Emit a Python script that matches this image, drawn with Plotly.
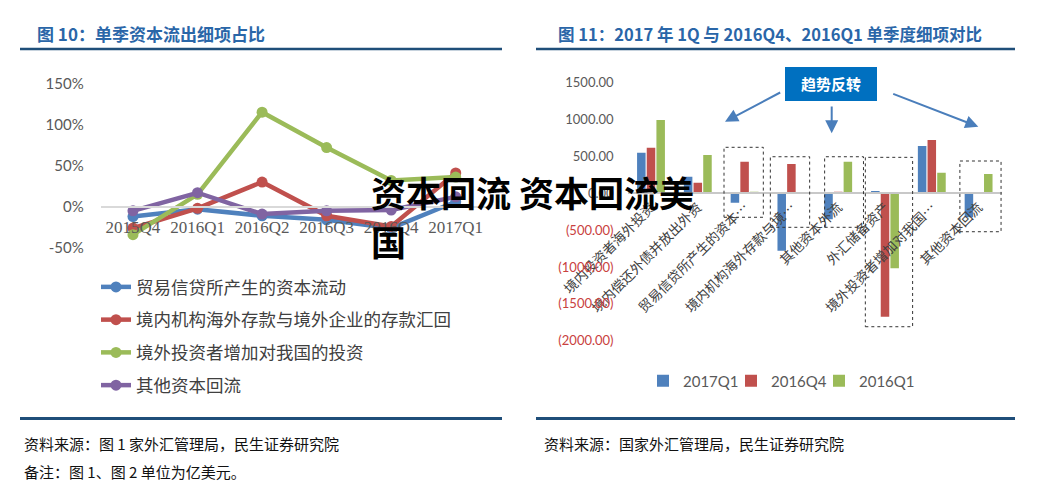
import plotly.graph_objects as go

W, H = 1062, 499

# ---------------- data ----------------
quarters = ["2015Q4", "2016Q1", "2016Q2", "2016Q3", "2016Q4", "2017Q1"]
trade_credit = [-12, -3, -11, -16, -26, 6]
deposits_return = [-26, -2, 30, -11, -24, 41]
foreign_investment = [-34, 15, 115, 72, 32, 36]
other_return = [-5, 17, -9, -5, -4, 12]
line_names = ["贸易信贷所产生的资本流动", "境内机构海外存款与境外企业的存款汇回",
              "境外投资者增加对我国的投资", "其他资本回流"]
left_ticks = [-50, 0, 50, 100, 150]

items = ["境内投资者海外投资", "境内偿还外债并放出外资", "贸易信贷所产生的资本…",
         "境内机构海外存款与境…", "其他资本外流", "外汇储备资产",
         "境外投资者增加对我国…", "其他资本回流"]
q_2017q1 = [550, 225, -127, -778, -353, 31, 641, -326]
q_2016q4 = [618, 144, 429, 397, 10, -1673, 723, 0]
q_2016q1 = [994, 519, 10, 0, 429, -1017, 280, 262]
bar_names = ["2017Q1", "2016Q4", "2016Q1"]
right_ticks = [1500, 1000, 500, 0, -500, -1000, -1500, -2000]

# ---------------- helpers ----------------
def px(x):
    return x / W

def py(y):
    return 1 - y / H

BLUE, RED, GREEN, PURPLE = "#4F81BD", "#C0504D", "#9BBB59", "#8064A2"
CJK = "Noto Sans CJK SC"

fig = go.Figure()

for name, vals, col in zip(line_names,
                           [trade_credit, deposits_return, foreign_investment, other_return],
                           [BLUE, RED, GREEN, PURPLE]):
    fig.add_trace(go.Scatter(
        x=quarters, y=vals, mode="lines+markers", name=name,
        line=dict(color=col, width=4.5), marker=dict(color=col, size=11),
        xaxis="x", yaxis="y", legend="legend", legendgroup=name, cliponaxis=False))

bar_legends = ["legend2", "legend3", "legend4"]
for name, vals, col, lg in zip(bar_names, [q_2017q1, q_2016q4, q_2016q1],
                               [BLUE, RED, GREEN], bar_legends):
    fig.add_trace(go.Bar(
        x=items, y=vals, name=name, marker=dict(color=col, line=dict(width=0)),
        xaxis="x2", yaxis="y2", legend=lg))

def tick_label(v):
    if v > 0:
        return f"{v:.2f}"
    if v == 0:
        return "0.00"
    return f"<span style='color:#C9413E'>({abs(v):.2f})</span>"

fig.update_layout(
    width=W, height=H,
    margin=dict(l=0, r=0, t=0, b=0, autoexpand=False),
    paper_bgcolor="white", plot_bgcolor="white",
    barmode="group", bargap=0.38, bargroupgap=0.12,
    xaxis=dict(domain=[px(100.7), px(488)], anchor="free", position=py(206.7),
               type="category", range=[-0.5, 5.5], showline=True, linecolor="#D9D9D9",
               linewidth=2, showgrid=False, ticks="", zeroline=False, automargin=False,
               ticklabelstandoff=5,
               tickfont=dict(family="Liberation Serif", size=17, color="#595959")),
    yaxis=dict(domain=[py(247.8), py(83.4)], anchor="free", position=px(100.7),
               range=[-50, 150], tickvals=left_ticks, automargin=False,
               ticktext=[f"{v}%" for v in left_ticks], showgrid=False, zeroline=False,
               showline=False, ticks="", ticklabelstandoff=17,
               tickfont=dict(family="Lato", size=15, color="#595959")),
    xaxis2=dict(domain=[px(627.6), px(1002)], anchor="free", position=py(193.3),
                type="category", range=[-0.5, 7.5], showline=True, linecolor="#C8C8C8",
                linewidth=2, showgrid=False, ticks="", zeroline=False, tickangle=-45,
                automargin=False,
                tickfont=dict(family=CJK, size=13.5, color="#404040")),
    yaxis2=dict(domain=[py(340.8), py(82.7)], anchor="free", position=px(627.6),
                range=[-2000, 1500], tickvals=right_ticks, automargin=False,
                ticktext=[tick_label(v) for v in right_ticks], showgrid=False,
                zeroline=False, showline=False, ticks="", ticklabelstandoff=14,
                tickfont=dict(family="Lato", size=13, color="#595959")),
    legend=dict(x=px(96), y=py(269), xanchor="left", yanchor="top",
                font=dict(family=CJK, size=17.5, color="#404040"),
                tracegroupgap=7, bgcolor="rgba(0,0,0,0)", itemwidth=30,
                itemclick=False),
)

# one single-entry legend per bar series, laid out in a row
for lg, xs in zip(bar_legends, [643, 731, 819]):
    fig.update_layout({lg: dict(x=px(xs), y=py(381), xanchor="left", yanchor="middle",
                                font=dict(family="Lato", size=15, color="#595959"),
                                bgcolor="rgba(0,0,0,0)", itemwidth=30)})

shapes = []
RULE = "#1F4E79"
for (x0, x1) in [(20, 502), (536, 1015)]:
    shapes.append(dict(type="line", xref="paper", yref="paper", x0=px(x0), x1=px(x1),
                       y0=py(49), y1=py(49), line=dict(color=RULE, width=2.5)))
    shapes.append(dict(type="line", xref="paper", yref="paper", x0=px(x0), x1=px(x1),
                       y0=py(418.5), y1=py(418.5), line=dict(color=RULE, width=3)))

# dashed highlight boxes (category index, left/right offsets, top/bottom values)
boxes = [(2, -0.44, 0.40, 624, -325), (3, -0.45, 0.39, 496, -461),
         (4, -0.29, 0.54, 496, -461), (5, -0.42, 0.59, 488, -1809),
         (7, -0.40, 0.48, 438, -521)]
for i, l, r, t, b in boxes:
    shapes.append(dict(type="rect", xref="x2", yref="y2", x0=i + l, x1=i + r, y0=b, y1=t,
                       line=dict(color="#333333", width=1, dash="dot"), layer="above"))

# callout box
shapes.append(dict(type="rect", xref="paper", yref="paper", x0=px(785), x1=px(877),
                   y0=py(101), y1=py(67), fillcolor="#0070C0", line=dict(width=0)))
fig.update_layout(shapes=shapes)

ann = []
ann.append(dict(text="<b>图 10：单季资本流出细项占比</b>", x=px(35), y=py(34),
                xref="paper", yref="paper", xanchor="left", yanchor="middle", showarrow=False,
                font=dict(family=CJK, size=17, color="#2A66A8")))
ann.append(dict(text="<b>图 11：2017 年 1Q 与 2016Q4、2016Q1 单季度细项对比</b>", x=px(556),
                y=py(34), xref="paper", yref="paper", xanchor="left", yanchor="middle",
                showarrow=False, font=dict(family=CJK, size=16.5, color="#2A66A8")))
ann.append(dict(text="资料来源：图 1 家外汇管理局，民生证券研究院", x=px(22), y=py(443),
                xref="paper", yref="paper", xanchor="left", yanchor="middle", showarrow=False,
                font=dict(family=CJK, size=15, color="#111111")))
ann.append(dict(text="备注：图 1、图 2 单位为亿美元。", x=px(22), y=py(471),
                xref="paper", yref="paper", xanchor="left", yanchor="middle", showarrow=False,
                font=dict(family=CJK, size=15, color="#111111")))
ann.append(dict(text="资料来源：国家外汇管理局，民生证券研究院", x=px(542), y=py(443),
                xref="paper", yref="paper", xanchor="left", yanchor="middle", showarrow=False,
                font=dict(family=CJK, size=15, color="#111111")))
ann.append(dict(text="<b>趋势反转</b>", x=px(831), y=py(84), xref="paper", yref="paper",
                xanchor="center", yanchor="middle", showarrow=False,
                font=dict(family=CJK, size=15, color="white")))
ARW = "#4A7EBB"
for hx, hy, tx, ty in [(725, 121.7, 781.7, 91.7), (831.7, 133.3, 831.7, 105),
                       (978.3, 126.7, 891.7, 93.3)]:
    ann.append(dict(text="", x=px(hx), y=py(hy), xref="paper", yref="paper",
                    ax=tx - hx, ay=ty - hy, showarrow=True, arrowhead=2, arrowsize=1.3,
                    arrowwidth=2, arrowcolor=ARW))
# watermark
ann.append(dict(text="<b>资本回流 资本回流美</b>", x=px(369), y=py(192), xref="paper",
                yref="paper", xanchor="left", yanchor="middle", showarrow=False,
                font=dict(family=CJK, size=35, color="black")))
ann.append(dict(text="<b>国</b>", x=px(369), y=py(241), xref="paper", yref="paper",
                xanchor="left", yanchor="middle", showarrow=False,
                font=dict(family=CJK, size=35, color="black")))
fig.update_layout(annotations=ann)

fig.write_html("out.html", config={"displayModeBar": False},
               post_script="document.body.style.margin='0px';")
